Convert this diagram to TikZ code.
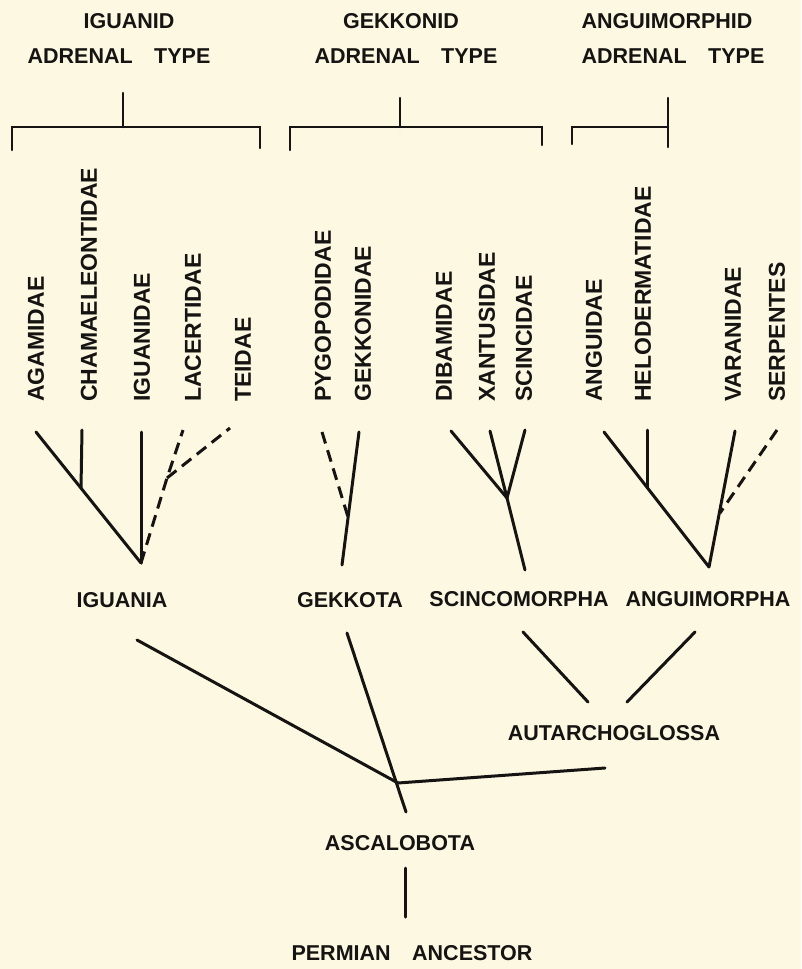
\documentclass[tikz,border=0pt]{standalone}
\usepackage{fontspec}
\setmainfont{Liberation Sans}
\definecolor{paper}{RGB}{252,248,226}
\definecolor{ink}{RGB}{22,20,18}
\begin{document}
\begin{tikzpicture}[x=1pt,y=-1pt,
  lbl/.style={font=\fontsize{21.5}{22}\selectfont\bfseries, inner sep=0pt, text=ink},
  fam/.style={font=\fontsize{23}{24}\selectfont\bfseries, inner sep=0pt, text=ink, rotate=90, anchor=west},
  br/.style={draw=ink, line width=3pt, line cap=round},
  brk/.style={draw=ink, line width=2.6pt, line cap=round, line join=miter},
  dsh/.style={br, line cap=butt, dash pattern=on 12pt off 7pt}]
\fill[paper] (0,0) rectangle (801,969);
\useasboundingbox (0,0) rectangle (801,969);

% headings
\node[lbl] (h1a) at (129,21) {IGUANID};
\node[lbl] (h1b) at (119,56) {ADRENAL\hspace{1em}TYPE};
\node[lbl] (h2a) at (401,21) {GEKKONID};
\node[lbl] (h2b) at (406,56) {ADRENAL\hspace{1em}TYPE};
\node[lbl] (h3a) at (667,21) {ANGUIMORPHID};
\node[lbl] (h3b) at (673,56) {ADRENAL\hspace{1em}TYPE};

% brackets
\draw[brk] (12,150) -- (12,127) -- (260,127) -- (260,148);
\draw[brk] (123,93) -- (123,127);
\draw[brk] (290,150) -- (290,127) -- (542,127) -- (542,145);
\draw[brk] (400,98) -- (400,127);
\draw[brk] (572,144) -- (572,127) -- (668,127);
\draw[brk] (668,98) -- (668,147);

% family labels
\node[fam] (f1) at (36,402) {AGAMIDAE};
\node[fam] (f2) at (89,402) {CHAMAELEONTIDAE};
\node[fam] (f3) at (142,402) {IGUANIDAE};
\node[fam] (f4) at (193,402) {LACERTIDAE};
\node[fam] (f5) at (243,402) {TEIDAE};
\node[fam] (f6) at (323,402) {PYGOPODIDAE};
\node[fam] (f7) at (363,402) {GEKKONIDAE};
\node[fam] (f8) at (444,402) {DIBAMIDAE};
\node[fam] (f9) at (487,402) {XANTUSIDAE};
\node[fam] (f10) at (524,402) {SCINCIDAE};
\node[fam] (f11) at (594,402) {ANGUIDAE};
\node[fam] (f12) at (643,402) {HELODERMATIDAE};
\node[fam] (f13) at (733,402) {VARANIDAE};
\node[fam] (f14) at (777,402) {SERPENTES};

% group labels
\node[lbl] (iguania) at (122,600) {IGUANIA};
\node[lbl] (gekkota) at (350,600) {GEKKOTA};
\node[lbl] (scinco) at (519,599) {SCINCOMORPHA};
\node[lbl] (angui) at (708,599) {ANGUIMORPHA};
\node[lbl] (autarch) at (614,733) {AUTARCHOGLOSSA};
\node[lbl] (ascalo) at (400,843) {ASCALOBOTA};
\node[lbl] (perm) at (412,953) {PERMIAN\hspace{1em}ANCESTOR};

% Iguania tree
\coordinate (igroot) at (141,563);
\coordinate (tagam) at (36,432);
\coordinate (jcham) at (81,488);
\coordinate (tcham) at (82,430);
\coordinate (tigu) at (141,432);
\coordinate (jlt) at (167,478);
\coordinate (tlac) at (183,430);
\coordinate (ttei) at (230,428);
\draw[br] (tagam) -- (igroot);
\draw[br] (tcham) -- (jcham);
\draw[br] (tigu) -- (igroot);
\draw[dsh] (igroot) -- (jlt) -- (tlac);
\draw[dsh] (jlt) -- (ttei);

% Gekkota tree
\coordinate (tpyg) at (322,432);
\coordinate (jgek) at (348,517);
\coordinate (tgek) at (359,432);
\coordinate (gkroot) at (342,565);
\draw[dsh] (tpyg) -- (jgek);
\draw[br] (tgek) -- (gkroot);

% Scincomorpha tree
\coordinate (tdib) at (451,431);
\coordinate (txan) at (490,431);
\coordinate (tsci) at (525,430);
\coordinate (jsc) at (507,498);
\coordinate (scroot) at (525,570);
\draw[br] (tdib) -- (jsc);
\draw[br] (txan) -- (jsc);
\draw[br] (tsci) -- (jsc);
\draw[br] (jsc) -- (scroot);

% Anguimorpha tree
\coordinate (tang) at (604,432);
\coordinate (anroot) at (709,567);
\coordinate (thel) at (647,430);
\coordinate (jhel) at (647,487);
\coordinate (tvar) at (735,431);
\coordinate (jser) at (720,513);
\coordinate (tser) at (777,430);
\draw[br] (tang) -- (anroot);
\draw[br] (thel) -- (jhel);
\draw[br] (tvar) -- (anroot);
\draw[dsh] (tser) -- (jser);

% lower tree
\coordinate (big) at (137,640);
\coordinate (ascj) at (398,783);
\coordinate (bgk) at (347,633);
\coordinate (basc) at (406,812);
\coordinate (baut) at (605,768);
\coordinate (bsc) at (523,632);
\coordinate (autl) at (588,702);
\coordinate (ban) at (695,632);
\coordinate (autr) at (627,702);
\coordinate (vtop) at (405,868);
\coordinate (vbot) at (405,917);
\draw[br] (big) -- (ascj);
\draw[br] (bgk) -- (basc);
\draw[br] (ascj) -- (baut);
\draw[br] (bsc) -- (autl);
\draw[br] (ban) -- (autr);
\draw[br] (vtop) -- (vbot);
\end{tikzpicture}
\end{document}
